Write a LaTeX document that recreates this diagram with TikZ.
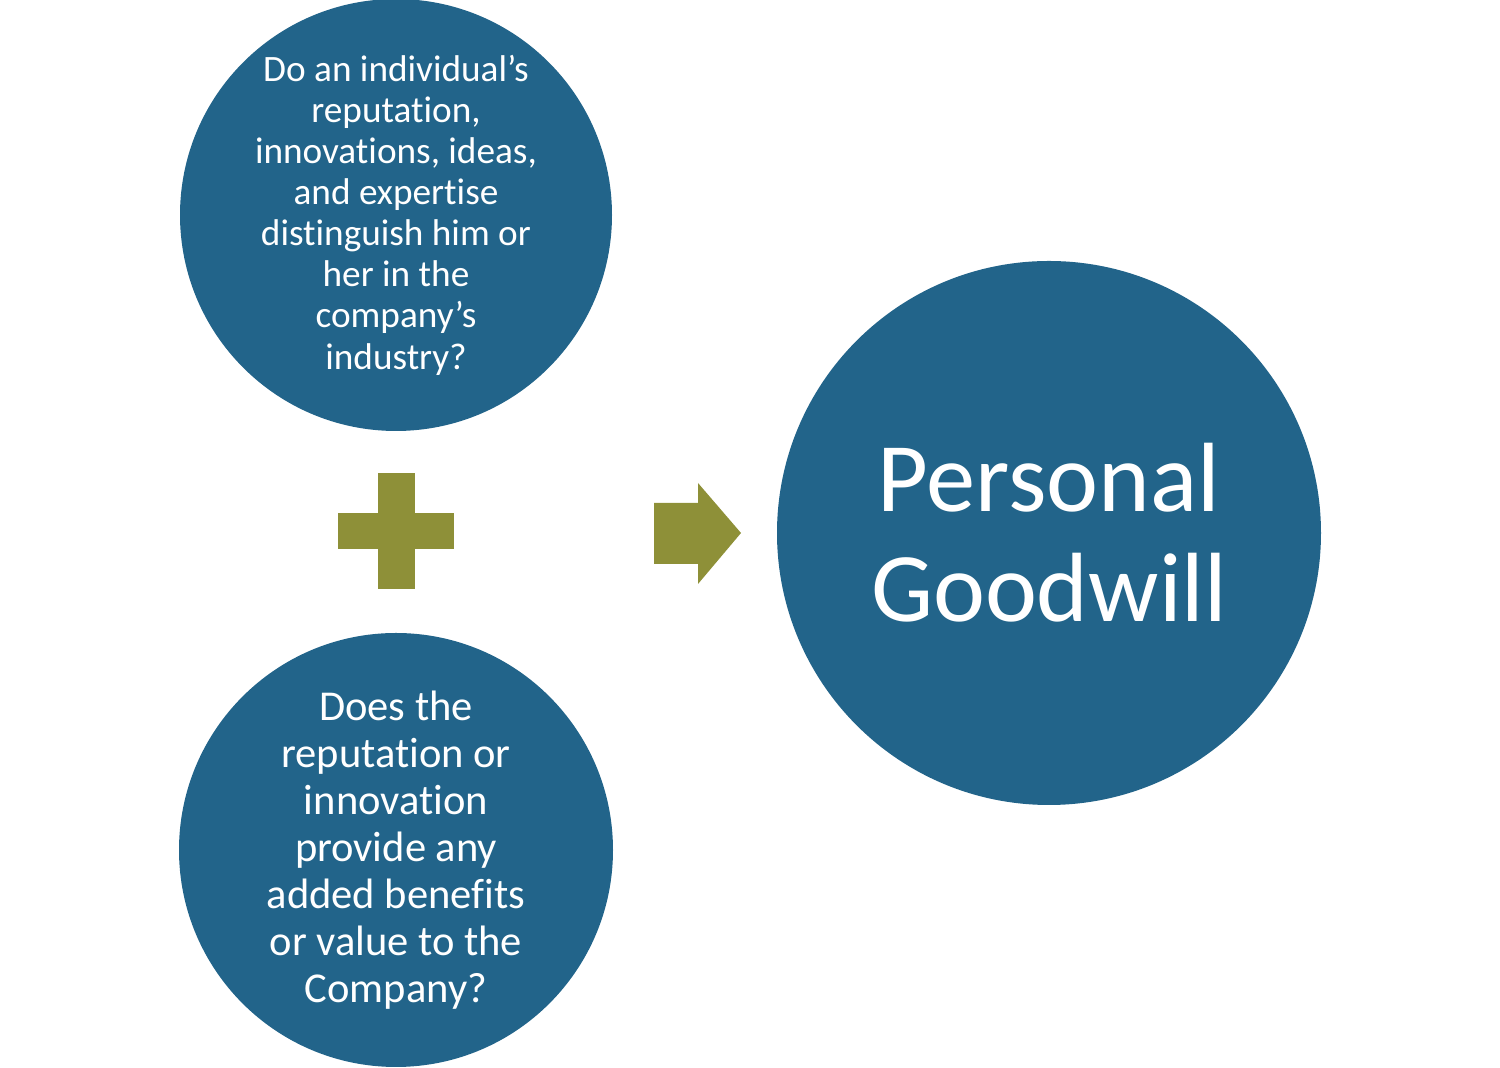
\documentclass[tikz,border=0pt]{standalone}
\usepackage{fontspec}
\setmainfont[Ligatures=NoCommon]{Carlito}
\usetikzlibrary{calc}
\definecolor{goodblue}{HTML}{22648A}
\definecolor{goodolive}{HTML}{8E9038}
\tikzset{
  bubble/.style={circle,fill=goodblue,text=white,align=center,inner sep=0pt},
}
\begin{document}
\begin{tikzpicture}
    \useasboundingbox (0,0) rectangle (15,10.68);
    \node[bubble,minimum size=4.32cm,font=\fontsize{10.6}{11.7}\selectfont] (reputation) at (3.96,8.53)
      {Do an individual’s\\reputation,\\innovations, ideas,\\and expertise\\distinguish him or\\her in the\\company’s\\industry?};
    \node[bubble,minimum size=4.34cm,font=\fontsize{12.1}{13.4}\selectfont] (benefits) at (3.96,2.18)
      {Does the\\reputation or\\innovation\\provide any\\added benefits\\or value to the\\Company?};
    \node[bubble,minimum size=5.44cm,font=\fontsize{28}{31.3}\selectfont] (goodwill) at (10.49,5.35)
      {Personal\\Goodwill};
    \coordinate (plus) at (3.96,5.37);
    \fill[goodolive] ($(plus)+(-0.185,-0.58)$) rectangle ($(plus)+(0.185,0.58)$);
    \fill[goodolive] ($(plus)+(-0.58,-0.18)$) rectangle ($(plus)+(0.58,0.18)$);
    \coordinate (arrowtip) at (7.41,5.35);
    \fill[goodolive] (6.54,5.04) -- (6.98,5.04) -- (6.98,4.84) -- (arrowtip)
      -- (6.98,5.85) -- (6.98,5.65) -- (6.54,5.65) -- cycle;
  \end{tikzpicture}
\end{document}
